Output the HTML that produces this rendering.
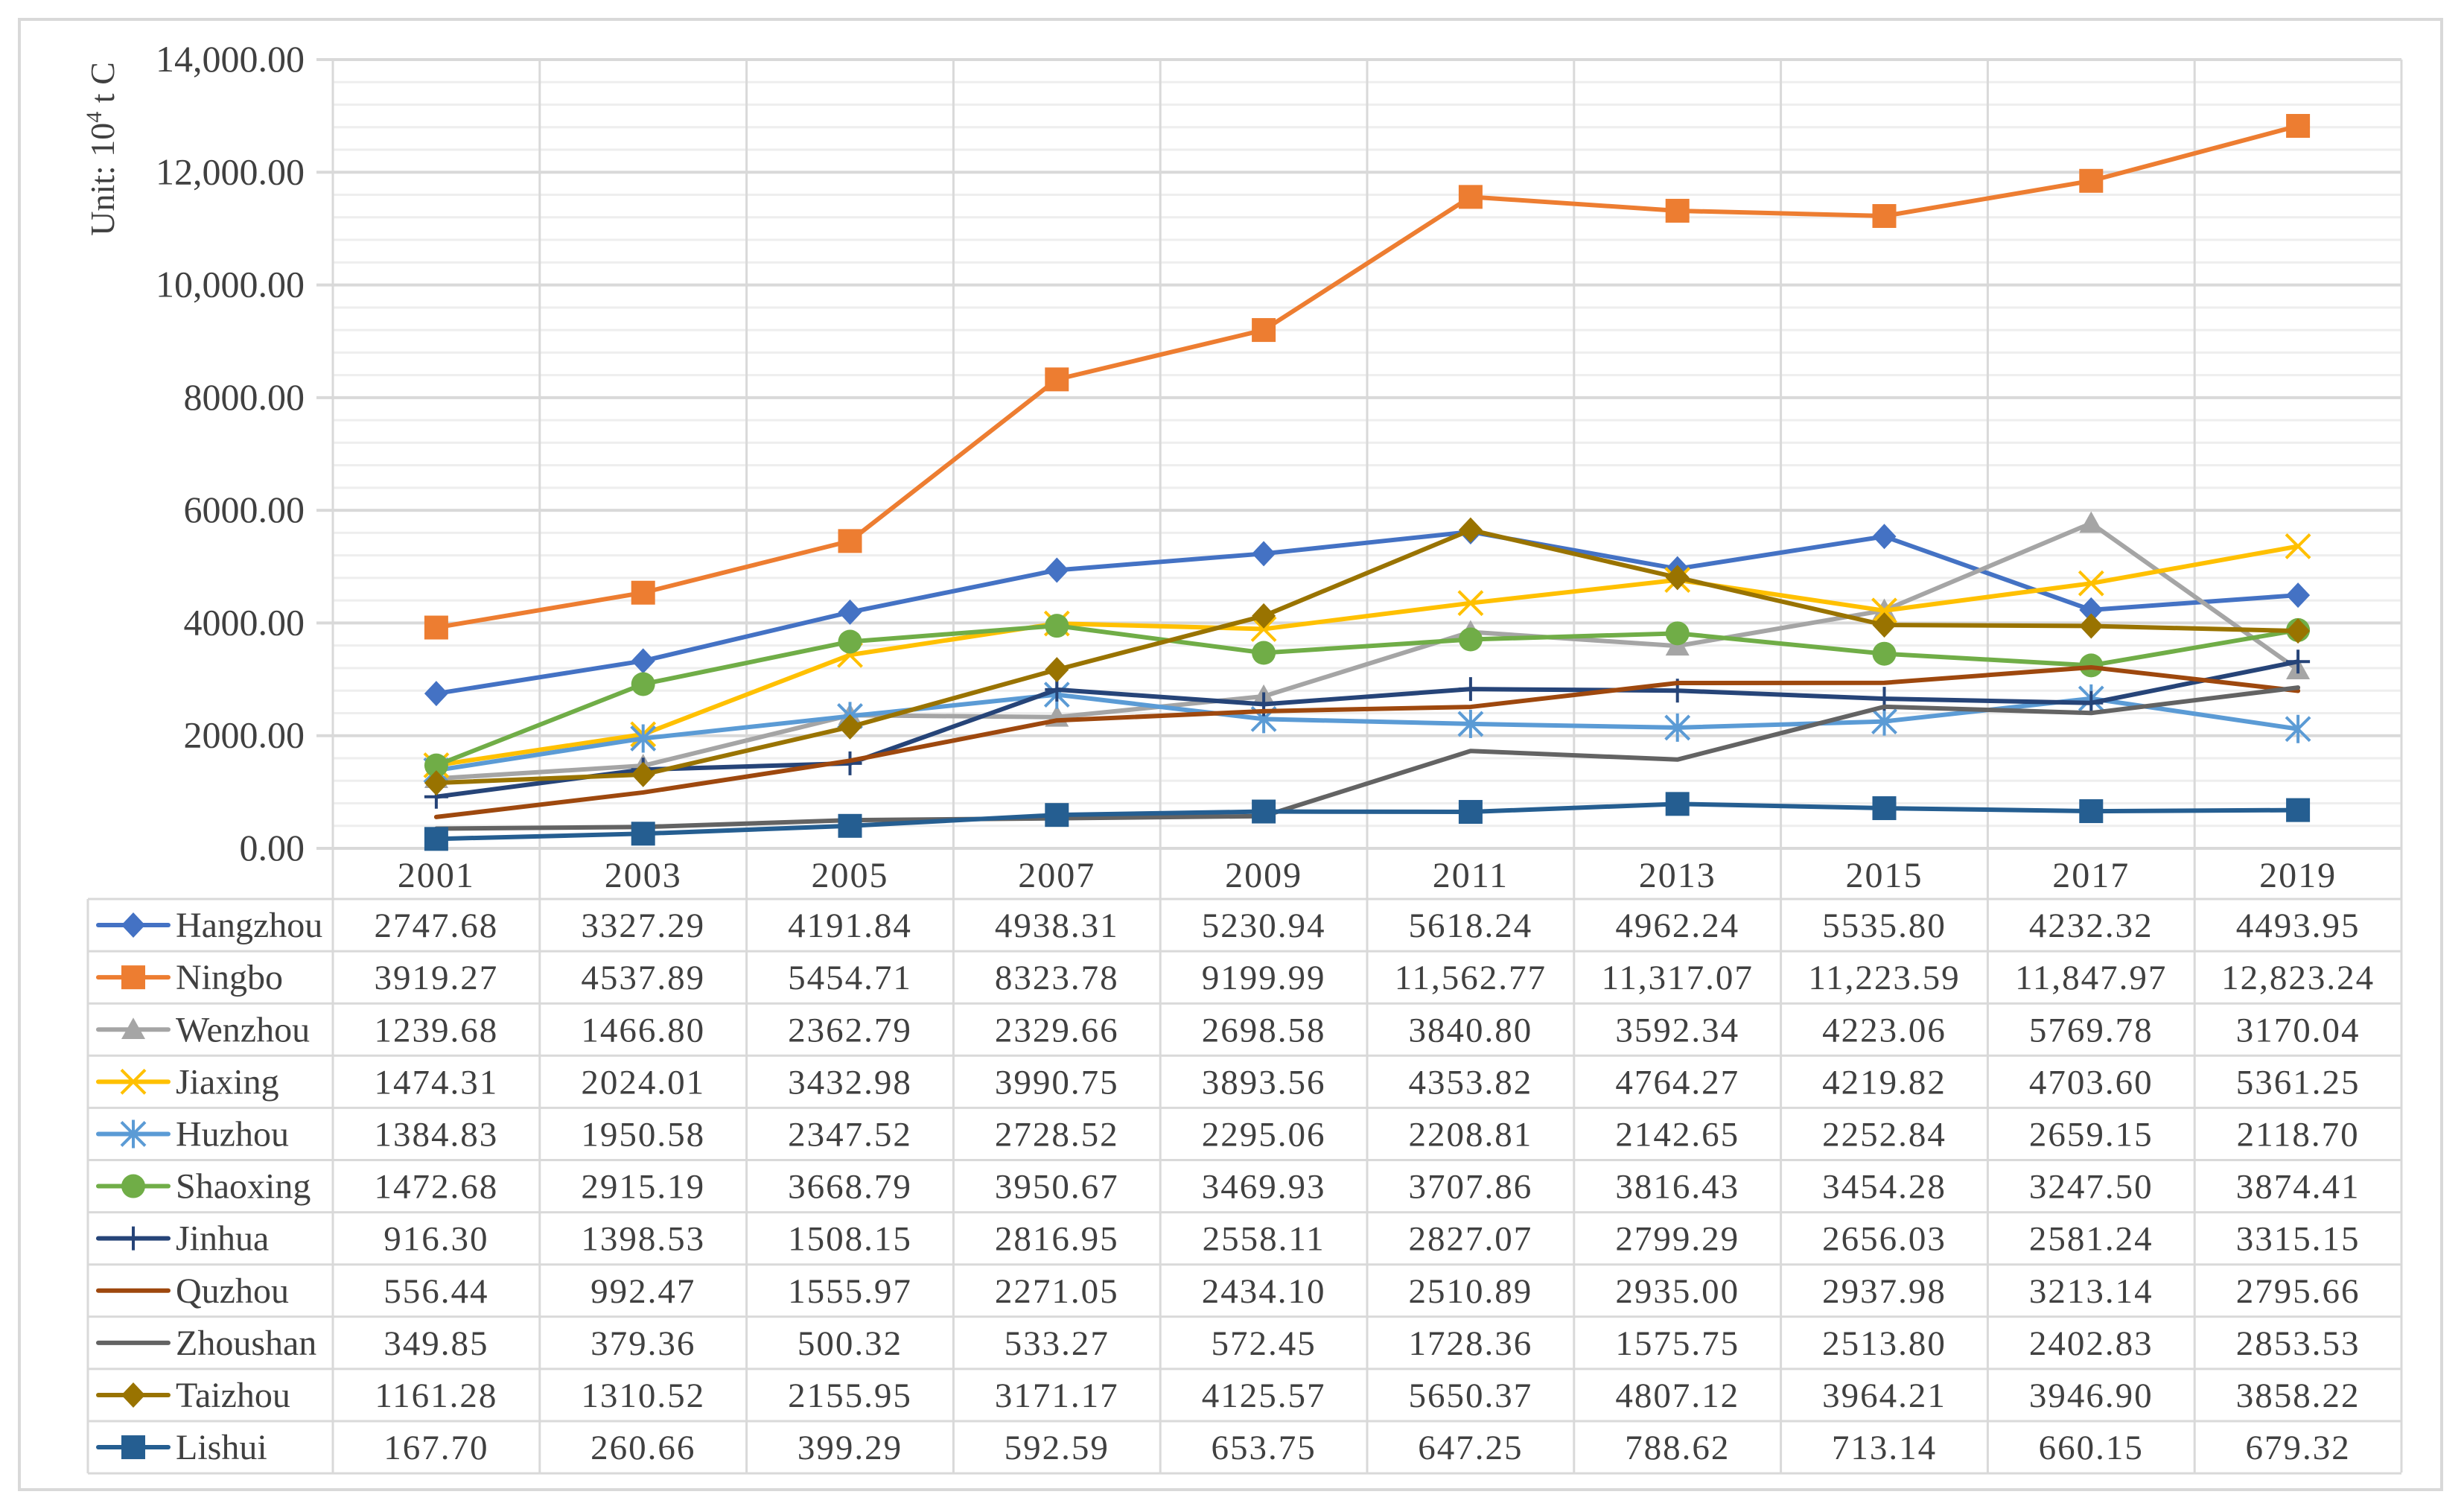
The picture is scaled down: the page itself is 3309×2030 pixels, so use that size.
<!DOCTYPE html>
<html><head><meta charset="utf-8"><style>
html,body{margin:0;padding:0;background:#fff;}
svg{display:block;}
text{font-family:"Liberation Serif",serif;fill:#404040;}
</style></head><body>
<svg id="chart" width="3309" height="2030" viewBox="0 0 3309 2030" xmlns="http://www.w3.org/2000/svg">
<rect x="26" y="26" width="3253" height="1974" fill="#fff" stroke="#d9d9d9" stroke-width="4"/>
<g id="grid"></g>
<g id="yticks"></g>
<text transform="translate(153,200) rotate(-90)" text-anchor="middle" font-size="46">Unit:  10<tspan dy="-17" font-size="30">4</tspan><tspan dy="17"> t C</tspan></text>
<g id="series"></g>
<g id="table"></g>
</svg>
<script>
const years = ["2001","2003","2005","2007","2009","2011","2013","2015","2017","2019"];
const seriesNames = ["Hangzhou","Ningbo","Wenzhou","Jiaxing","Huzhou","Shaoxing","Jinhua","Quzhou","Zhoushan","Taizhou","Lishui"];
const hangzhou = [2747.68,3327.29,4191.84,4938.31,5230.94,5618.24,4962.24,5535.80,4232.32,4493.95];
const ningbo = [3919.27,4537.89,5454.71,8323.78,9199.99,11562.77,11317.07,11223.59,11847.97,12823.24];
const wenzhou = [1239.68,1466.80,2362.79,2329.66,2698.58,3840.80,3592.34,4223.06,5769.78,3170.04];
const jiaxing = [1474.31,2024.01,3432.98,3990.75,3893.56,4353.82,4764.27,4219.82,4703.60,5361.25];
const huzhou = [1384.83,1950.58,2347.52,2728.52,2295.06,2208.81,2142.65,2252.84,2659.15,2118.70];
const shaoxing = [1472.68,2915.19,3668.79,3950.67,3469.93,3707.86,3816.43,3454.28,3247.50,3874.41];
const jinhua = [916.30,1398.53,1508.15,2816.95,2558.11,2827.07,2799.29,2656.03,2581.24,3315.15];
const quzhou = [556.44,992.47,1555.97,2271.05,2434.10,2510.89,2935.00,2937.98,3213.14,2795.66];
const zhoushan = [349.85,379.36,500.32,533.27,572.45,1728.36,1575.75,2513.80,2402.83,2853.53];
const taizhou = [1161.28,1310.52,2155.95,3171.17,4125.57,5650.37,4807.12,3964.21,3946.90,3858.22];
const lishui = [167.70,260.66,399.29,592.59,653.75,647.25,788.62,713.14,660.15,679.32];
const yTickValues = [0,2000,4000,6000,8000,10000,12000,14000];
const yTickLabels = ["0.00","2000.00","4000.00","6000.00","8000.00","10,000.00","12,000.00","14,000.00"];

const seriesValues = [hangzhou,ningbo,wenzhou,jiaxing,huzhou,shaoxing,jinhua,quzhou,zhoushan,taizhou,lishui];
const colors = ["#4472C4","#ED7D31","#A5A5A5","#FFC000","#5B9BD5","#70AD47","#264478","#9E480E","#636363","#997300","#255E91"];
const markers = ["diamond","square","triangle","x","star","circle","plus","none","none","diamond","square"];

const NS="http://www.w3.org/2000/svg";
const PL=447, PR=3225, PT=80, PB=1139, YMAX=14000;
const colW=(PR-PL)/years.length;
function xPos(i){return PL+colW*(i+0.5);}
function yPos(v){return PB-(v/YMAX)*(PB-PT);}
function mk(tag,attrs,parent){const e=document.createElementNS(NS,tag);for(const k in attrs)e.setAttribute(k,attrs[k]);parent.appendChild(e);return e;}
function fmt(v){const s=v.toFixed(2);if(v>=10000){const p=s.split(".");return p[0].slice(0,-3)+","+p[0].slice(-3)+"."+p[1];}return s;}

const grid=document.getElementById("grid");
for(let v=0;v<=YMAX;v+=400){
  const major=v%2000===0;
  const l=mk("line",{x1:major?PL-22:PL,x2:PR,y1:yPos(v),y2:yPos(v),stroke:major?"#d9d9d9":"#eeeeee","stroke-width":major?4:3},grid);
  
  
}
for(let i=0;i<=years.length;i++){
  const x=PL+colW*i;
  const l=mk("line",{x1:x,x2:x,y1:PT,y2:1977,stroke:"#d9d9d9","stroke-width":3},grid);
  
  
}
const yt=document.getElementById("yticks");
yTickValues.forEach((v,i)=>{
  const t=mk("text",{x:PL-38,y:yPos(v)+16,"text-anchor":"end","font-size":50},yt);
  t.textContent=yTickLabels[i];
  
  
});

function drawMarker(type,x,y,c,parent){
  let e=null;const s=16;
  if(type==="diamond")e=mk("polygon",{points:`${x},${y-s-1} ${x+s},${y} ${x},${y+s+1} ${x-s},${y}`,fill:c},parent);
  else if(type==="square")e=mk("rect",{x:x-s,y:y-s,width:2*s,height:2*s,fill:c},parent);
  else if(type==="triangle")e=mk("polygon",{points:`${x},${y-s} ${x+s},${y+s*0.8} ${x-s},${y+s*0.8}`,fill:c},parent);
  else if(type==="circle")e=mk("circle",{cx:x,cy:y,r:s,fill:c},parent);
  else if(type==="x")e=mk("path",{d:`M${x-s} ${y-s}L${x+s} ${y+s}M${x+s} ${y-s}L${x-s} ${y+s}`,stroke:c,"stroke-width":4,fill:"none"},parent);
  else if(type==="star")e=mk("path",{d:`M${x-s} ${y-s}L${x+s} ${y+s}M${x+s} ${y-s}L${x-s} ${y+s}M${x} ${y-s-3}L${x} ${y+s+3}`,stroke:c,"stroke-width":4,fill:"none"},parent);
  else if(type==="plus")e=mk("path",{d:`M${x-s} ${y}L${x+s} ${y}M${x} ${y-s}L${x} ${y+s}`,stroke:c,"stroke-width":4,fill:"none"},parent);
  if(e){}
}

const sg=document.getElementById("series");
seriesValues.forEach((vals,si)=>{
  const g=mk("g",{},sg);
  
  
  const pts=vals.map((v,i)=>xPos(i)+","+yPos(v)).join(" ");
  const pl=mk("polyline",{points:pts,fill:"none",stroke:colors[si],"stroke-width":6,"stroke-linejoin":"round","stroke-linecap":"round"},g);
  
  
  vals.forEach((v,i)=>drawMarker(markers[si],xPos(i),yPos(v),colors[si],g));
});

const tb=document.getElementById("table");
const TL=118, TT=1207, RH=70.1;
years.forEach((y,i)=>{
  const t=mk("text",{x:xPos(i),y:PB+52,"text-anchor":"middle","font-size":48,"letter-spacing":2},tb);
  t.textContent=y;
  
  
});
for(let r=0;r<=seriesNames.length;r++){
  const l=mk("line",{x1:TL,x2:PR,y1:TT+RH*r,y2:TT+RH*r,stroke:"#d9d9d9","stroke-width":3},tb);
  
  
}
const lv=mk("line",{x1:TL,x2:TL,y1:TT,y2:TT+RH*seriesNames.length,stroke:"#d9d9d9","stroke-width":3},tb);


seriesNames.forEach((n,si)=>{
  const cy=TT+RH*(si+0.5);
  const lg=mk("g",{},tb);
  
  
  const ll=mk("line",{x1:132,x2:226,y1:cy,y2:cy,stroke:colors[si],"stroke-width":6,"stroke-linecap":"round"},lg);
  
  
  drawMarker(markers[si],179,cy,colors[si],lg);
  const t=mk("text",{x:236,y:cy+16,"font-size":48},lg);
  t.textContent=n;
  
  
  seriesValues[si].forEach((v,i)=>{
    const c=mk("text",{x:xPos(i),y:cy+16,"text-anchor":"middle","font-size":47,"letter-spacing":2},tb);
    c.textContent=fmt(v);
    
    
  });
});
</script>
</body></html>
